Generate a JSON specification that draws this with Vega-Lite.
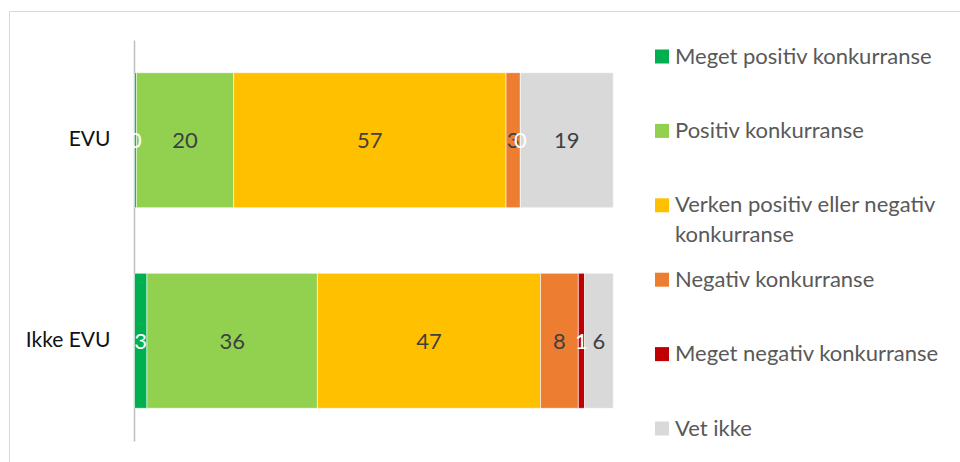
{
  "$schema": "https://vega.github.io/schema/vega-lite/v6.json",
  "autosize": {"type": "none"},
  "width": 961,
  "height": 461,
  "padding": {"left": 9, "top": 11, "right": -10, "bottom": -10},
  "background": "white",
  "config": {
    "view": {"stroke": "#d9d9d9", "strokeWidth": 1},
    "font": "Lato",
    "style": {"guide-label": {"lineHeight": 30}}
  },
  "data": {
    "values": [
      {"group": "EVU", "cat": "Meget positiv konkurranse", "n": 1, "value": 0.4},
      {"group": "EVU", "cat": "Positiv konkurranse", "n": 2, "value": 20.3},
      {"group": "EVU", "cat": "Verken positiv eller negativ konkurranse", "n": 3, "value": 56.9},
      {"group": "EVU", "cat": "Negativ konkurranse", "n": 4, "value": 3.0},
      {"group": "EVU", "cat": "Meget negativ konkurranse", "n": 5, "value": 0},
      {"group": "EVU", "cat": "Vet ikke", "n": 6, "value": 19.4},
      {"group": "Ikke EVU", "cat": "Meget positiv konkurranse", "n": 1, "value": 2.6},
      {"group": "Ikke EVU", "cat": "Positiv konkurranse", "n": 2, "value": 35.6},
      {"group": "Ikke EVU", "cat": "Verken positiv eller negativ konkurranse", "n": 3, "value": 46.6},
      {"group": "Ikke EVU", "cat": "Negativ konkurranse", "n": 4, "value": 7.9},
      {"group": "Ikke EVU", "cat": "Meget negativ konkurranse", "n": 5, "value": 1.3},
      {"group": "Ikke EVU", "cat": "Vet ikke", "n": 6, "value": 6.0}
    ]
  },
  "transform": [
    {"stack": "value", "groupby": ["group"], "sort": [{"field": "n", "order": "ascending"}], "as": ["v0", "v1"]},
    {"calculate": "(datum.v0 + datum.v1) / 2", "as": "vmid"}
  ],
  "encoding": {
    "y": {
      "field": "group", "type": "nominal",
      "scale": {"domain": ["EVU", "Ikke EVU"], "range": [29, 430], "paddingInner": 0.327, "paddingOuter": 0.163},
      "axis": {
        "title": null, "orient": "left", "offset": -125, "ticks": false,
        "domainColor": "#bfbfbf", "domainWidth": 1.5,
        "labelPadding": 24, "labelFontSize": 21, "labelColor": "#111111", "labelFont": "Lato"
      }
    }
  },
  "layer": [
    {
      "mark": {"type": "bar", "stroke": "white", "strokeWidth": 0.7, "strokeOpacity": 0.8},
      "encoding": {
        "x": {
          "field": "v0", "type": "quantitative",
          "scale": {"domain": [0, 100], "range": [125.5, 604.3], "zero": false, "nice": false},
          "axis": null
        },
        "x2": {"field": "v1"},
        "color": {
          "field": "cat", "type": "nominal",
          "scale": {
            "domain": ["Meget positiv konkurranse", "Positiv konkurranse", "Verken positiv eller negativ konkurranse", "Negativ konkurranse", "Meget negativ konkurranse", "Vet ikke"],
            "range": ["#00B050", "#92D050", "#FFC000", "#ED7D31", "#C00000", "#D9D9D9"]
          },
          "legend": {
            "title": null, "orient": "none", "legendX": 642, "legendY": 34.5,
            "symbolType": "square", "symbolSize": 196, "symbolStrokeWidth": 0,
            "labelFontSize": 22, "labelColor": "#595959", "labelFont": "Lato",
            "labelLimit": 400, "labelOffset": 2, "rowPadding": 22.4, "padding": 0,
            "gridAlign": "all",
            "labelExpr": "datum.label == 'Verken positiv eller negativ konkurranse' ? ['Verken positiv eller negativ', 'konkurranse'] : datum.label"
          }
        }
      }
    },
    {
      "mark": {"type": "text", "fontSize": 22, "font": "Lato", "dy": 1},
      "encoding": {
        "x": {"field": "vmid", "type": "quantitative"},
        "text": {"field": "value", "type": "quantitative", "format": ".0f"},
        "color": {
          "condition": {"test": "datum.cat == 'Meget positiv konkurranse' || datum.cat == 'Meget negativ konkurranse'", "value": "white"},
          "value": "#404040"
        }
      }
    }
  ]
}
